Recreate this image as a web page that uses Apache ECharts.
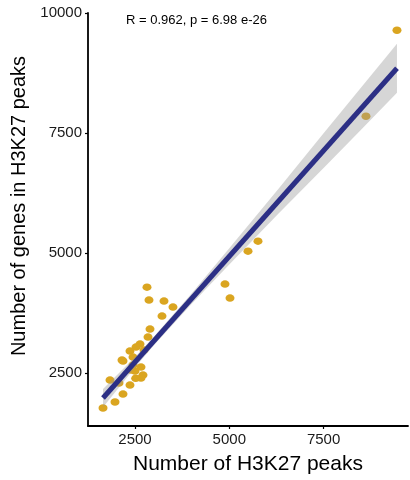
<!DOCTYPE html>
<html>
<head>
<meta charset="utf-8">
<script src="https://cdn.jsdelivr.net/npm/echarts@6/dist/echarts.min.js"></script>
<style>
  html, body { margin: 0; padding: 0; background: #fff; }
  #chart { width: 410px; height: 480px; }
</style>
</head>
<body>
<div id="chart"></div>
<script>
// Données
const peaks = [9446, 8624, 5761, 5496, 4886, 5019, 2818, 2871, 3269, 3507,
    3216, 2898, 2845, 2633, 2527, 2367, 2739, 2182, 2447, 2155,
    2447, 2500, 2659, 2712, 2659, 2394, 2367, 1837, 2076, 2182,
    1970, 1652, 2518];
const genes = [9640, 7848, 5244, 5035, 4348, 4056, 4285, 4015, 3994, 3869,
    3681, 3410, 3244, 3098, 3035, 2952, 2973, 2744, 2827, 2765,
    2660, 2535, 2619, 2452, 2390, 2556, 2244, 2348, 2285, 2056,
    1890, 1765, 2383];

// Droite de régression (extrémités) et intervalle de confiance
const fitX = [1652, 9446];
const fitY = [1973, 8848];
const bandX = [1652, 2500, 3000, 4000, 5000, 6300, 7500, 8500, 9446];
const bandLow = [1783, 2611, 3072, 3934, 4756, 5813, 6771, 7573, 8338];
const bandHigh = [2163, 2831, 3252, 4154, 5096, 6333, 7491, 8453, 9358];

const xTicks = [2500, 5000, 7500];
const yTicks = [2500, 5000, 7500, 10000];

const chart = echarts.init(document.getElementById('chart'));

const axisCommun = {
    type: 'value',
    axisLine: { show: true, onZero: false, lineStyle: { color: '#000', width: 1.8 } },
    axisTick: { show: true, length: 3, lineStyle: { color: '#000', width: 1.2 } },
    axisLabel: {
        color: '#1a1a1a', fontSize: 15, fontFamily: 'Liberation Sans',
        formatter: v => String(v)
    },
    splitLine: { show: false },
    nameLocation: 'middle',
    nameTextStyle: { color: '#000', fontSize: 21, fontFamily: 'Liberation Sans' }
};

const option = {
    backgroundColor: '#fff',
    animation: false,
    title: {
        text: 'R = 0.962, p = 6.98 e-26',
        left: 121,
        top: 9,
        textStyle: { color: '#000', fontSize: 13, fontWeight: 'normal', fontFamily: 'Liberation Sans' }
    },
    grid: { left: 88, right: 2, top: 13, bottom: 54, outerBoundsMode: 'none', containLabel: false },
    xAxis: Object.assign({}, axisCommun, {
        min: 1254,
        max: 9738,
        name: 'Number of H3K27 peaks',
        nameGap: 28,
        axisTick: Object.assign({}, axisCommun.axisTick, { customValues: xTicks }),
        axisLabel: Object.assign({}, axisCommun.axisLabel, { customValues: xTicks, margin: 6 })
    }),
    yAxis: Object.assign({}, axisCommun, {
        min: 1390,
        max: 10000,
        name: 'Number of genes in H3K27 peaks',
        nameGap: 58,
        nameTextStyle: Object.assign({}, axisCommun.nameTextStyle, { fontSize: 20, padding: [0, 0, 0, 27] }),
        axisTick: Object.assign({}, axisCommun.axisTick, { customValues: yTicks }),
        axisLabel: Object.assign({}, axisCommun.axisLabel, { customValues: yTicks, margin: 6 })
    }),
    series: [
        {
            type: 'scatter',
            data: peaks.map((x, i) => [x, genes[i]]),
            symbolSize: [9, 7.5],
            itemStyle: { color: '#DAA520', opacity: 1 },
            z: 2
        },
        {
            type: 'custom',
            data: bandX.map((x, i) => [x, bandLow[i], bandHigh[i]]),
            renderItem: function (params, api) {
                if (params.dataIndex !== 0) return null;
                const pts = [];
                bandX.forEach((x, i) => pts.push(api.coord([x, bandHigh[i]])));
                for (let i = bandX.length - 1; i >= 0; i--) pts.push(api.coord([bandX[i], bandLow[i]]));
                return {
                    type: 'polygon',
                    shape: { points: pts },
                    style: { fill: 'rgba(153,153,153,0.4)' }
                };
            },
            z: 3
        },
        {
            type: 'line',
            data: fitX.map((x, i) => [x, fitY[i]]),
            symbol: 'none',
            lineStyle: { color: '#2C2F85', width: 5 },
            z: 4
        }
    ]
};
chart.setOption(option);
</script>
</body>
</html>
